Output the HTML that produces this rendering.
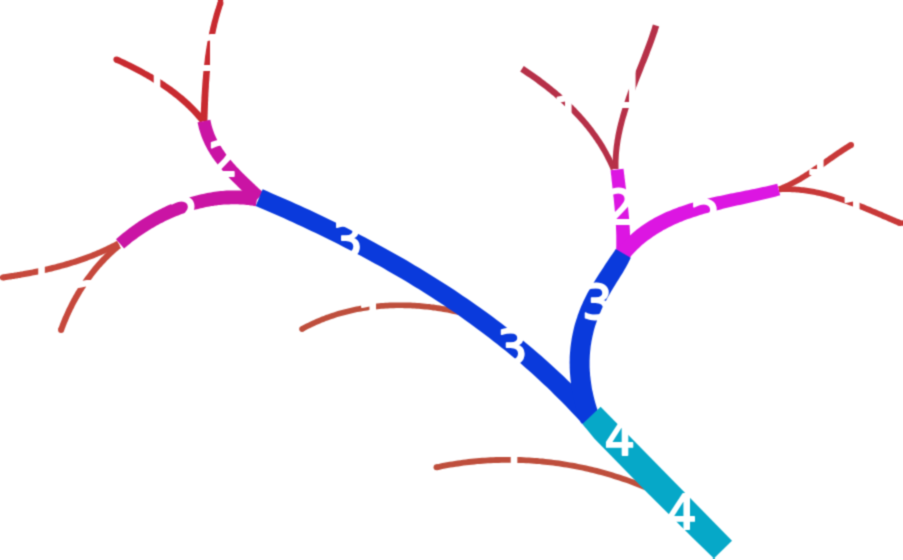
<!DOCTYPE html>
<html lang="en"><head><meta charset="utf-8"><title>Stream order</title>
<style>
html,body{margin:0;padding:0;background:#fff;overflow:hidden}
svg{display:block}
text{font-family:"DejaVu Sans","Liberation Sans",sans-serif;font-size:48.0px;fill:#fff;stroke:#fff;stroke-width:1.8px;stroke-linejoin:round}
</style></head><body>
<svg width="903" height="560" viewBox="0 0 903 560">
<defs><filter id="b" x="0" y="0" width="100%" height="100%" color-interpolation-filters="sRGB"><feConvolveMatrix order="3" kernelMatrix="0.03607 0.11778 0.03607 0.11778 0.38462 0.11778 0.03607 0.11778 0.03607" divisor="1" edgeMode="duplicate" preserveAlpha="false"/></filter></defs>
<rect width="903" height="560" fill="#fff"/>
<g filter="url(#b)">
<path d="M217.7 2.0 L217.2 3.5 L216.7 4.9 L216.2 6.4 L215.8 7.9 L215.3 9.3 L214.8 10.8 L214.4 12.3 L213.9 13.8 L213.5 15.2 L213.1 16.7 L212.7 18.2 L212.3 19.7 L211.9 21.1 L211.5 22.6 L211.2 24.1 L210.8 25.6 L210.4 27.1 L210.1 28.6 L209.8 30.1 L209.4 31.6 L209.1 33.1 L208.8 34.6 L208.5 36.1 L208.2 37.6 L207.9 39.1 L207.6 40.6 L207.4 42.1 L207.1 43.6 L206.9 45.1 L206.6 46.6 L206.4 48.1 L206.1 49.6 L205.9 51.1 L205.7 52.6 L205.5 54.1 L205.2 55.6 L205.0 57.2 L204.8 58.7 L204.7 60.2 L204.5 61.7 L204.3 63.2 L204.1 64.7 L203.9 66.2 L203.8 67.8 L203.6 69.3 L203.5 70.8 L203.3 72.3 L203.2 73.8 L203.0 75.4 L202.9 76.9 L202.8 78.4 L202.6 79.9 L202.5 81.4 L202.4 83.0 L202.3 84.5 L202.2 86.0 L202.1 87.5 L202.0 89.0 L201.9 90.6 L201.8 92.1 L201.7 93.6 L201.6 95.1 L201.5 96.6 L201.4 98.2 L201.4 99.7 L201.3 101.2 L201.2 102.7 L201.1 104.2 L201.1 105.7 L201.0 107.3 L200.9 108.8 L200.9 110.3 L200.8 111.8 L200.7 113.3 L200.7 114.8 L200.6 116.3 L200.6 117.9 L200.5 119.4 L200.4 120.9 L207.4 121.1 L207.5 119.6 L207.5 118.1 L207.6 116.6 L207.6 115.1 L207.7 113.6 L207.7 112.1 L207.8 110.6 L207.8 109.0 L207.9 107.5 L207.9 106.0 L208.0 104.5 L208.0 103.0 L208.1 101.5 L208.2 100.0 L208.2 98.5 L208.3 97.0 L208.4 95.5 L208.4 94.0 L208.5 92.5 L208.6 91.0 L208.7 89.4 L208.8 87.9 L208.9 86.4 L208.9 84.9 L209.0 83.4 L209.1 81.9 L209.3 80.4 L209.4 78.9 L209.5 77.4 L209.6 75.9 L209.7 74.4 L209.8 72.9 L210.0 71.4 L210.1 69.9 L210.3 68.4 L210.4 66.9 L210.6 65.4 L210.7 63.9 L210.9 62.4 L211.0 60.9 L211.2 59.5 L211.4 58.0 L211.6 56.5 L211.8 55.0 L212.0 53.5 L212.2 52.0 L212.4 50.5 L212.6 49.1 L212.8 47.6 L213.1 46.1 L213.3 44.6 L213.6 43.1 L213.8 41.7 L214.1 40.2 L214.3 38.7 L214.6 37.2 L214.9 35.8 L215.2 34.3 L215.5 32.8 L215.8 31.4 L216.1 29.9 L216.4 28.5 L216.8 27.0 L217.1 25.5 L217.4 24.1 L217.8 22.6 L218.2 21.2 L218.5 19.7 L218.9 18.3 L219.3 16.9 L219.7 15.4 L220.1 14.0 L220.6 12.5 L221.0 11.1 L221.4 9.7 L221.9 8.2 L222.3 6.8 L222.8 5.4 L223.3 4.0Z" fill="#c82a30"/><circle cx="220.5" cy="3.0" r="2.95" fill="#c82a30"/>
<path d="M115.2 62.4 L116.4 62.9 L117.7 63.5 L118.9 64.1 L120.1 64.6 L121.3 65.2 L122.5 65.8 L123.7 66.4 L124.9 66.9 L126.1 67.5 L127.3 68.1 L128.5 68.7 L129.7 69.3 L130.9 69.9 L132.1 70.5 L133.3 71.2 L134.5 71.8 L135.7 72.4 L136.9 73.0 L138.1 73.7 L139.3 74.3 L140.5 75.0 L141.6 75.6 L142.8 76.3 L144.0 76.9 L145.2 77.6 L146.3 78.3 L147.5 78.9 L148.6 79.6 L149.8 80.3 L151.0 81.0 L152.1 81.7 L153.2 82.4 L154.4 83.1 L155.5 83.8 L156.7 84.6 L157.8 85.3 L158.9 86.0 L160.0 86.8 L161.1 87.5 L162.2 88.3 L163.3 89.0 L164.4 89.8 L165.5 90.6 L166.6 91.3 L167.7 92.1 L168.8 92.9 L169.9 93.7 L170.9 94.5 L172.0 95.3 L173.0 96.2 L174.1 97.0 L175.1 97.8 L176.2 98.6 L177.2 99.5 L178.2 100.3 L179.2 101.2 L180.2 102.1 L181.2 102.9 L182.2 103.8 L183.2 104.7 L184.2 105.6 L185.2 106.5 L186.1 107.4 L187.1 108.3 L188.0 109.3 L189.0 110.2 L189.9 111.1 L190.8 112.1 L191.8 113.0 L192.7 114.0 L193.6 115.0 L194.5 115.9 L195.4 116.9 L196.2 117.9 L197.1 118.9 L198.0 119.9 L198.8 120.9 L199.7 122.0 L200.5 123.0 L205.8 118.7 L204.9 117.7 L204.0 116.6 L203.1 115.5 L202.2 114.5 L201.3 113.5 L200.4 112.4 L199.5 111.4 L198.5 110.4 L197.6 109.4 L196.6 108.4 L195.7 107.4 L194.7 106.4 L193.7 105.4 L192.7 104.5 L191.7 103.5 L190.7 102.6 L189.7 101.6 L188.7 100.7 L187.7 99.8 L186.6 98.8 L185.6 97.9 L184.6 97.0 L183.5 96.1 L182.5 95.3 L181.4 94.4 L180.3 93.5 L179.2 92.7 L178.2 91.8 L177.1 91.0 L176.0 90.1 L174.9 89.3 L173.8 88.5 L172.7 87.6 L171.6 86.8 L170.4 86.0 L169.3 85.2 L168.2 84.5 L167.0 83.7 L165.9 82.9 L164.8 82.1 L163.6 81.4 L162.5 80.6 L161.3 79.9 L160.1 79.1 L159.0 78.4 L157.8 77.7 L156.6 76.9 L155.5 76.2 L154.3 75.5 L153.1 74.8 L151.9 74.1 L150.7 73.4 L149.5 72.7 L148.3 72.0 L147.1 71.4 L145.9 70.7 L144.7 70.0 L143.5 69.4 L142.3 68.7 L141.1 68.1 L139.9 67.4 L138.7 66.8 L137.4 66.2 L136.2 65.5 L135.0 64.9 L133.8 64.3 L132.6 63.7 L131.3 63.1 L130.1 62.5 L128.9 61.9 L127.6 61.3 L126.4 60.7 L125.2 60.1 L123.9 59.6 L122.7 59.0 L121.5 58.4 L120.3 57.8 L119.0 57.3 L117.8 56.7Z" fill="#c82a30"/><circle cx="116.5" cy="59.6" r="3.10" fill="#c82a30"/>
<path d="M3.4 280.5 L5.0 280.3 L6.5 280.1 L8.0 279.8 L9.5 279.6 L11.0 279.4 L12.5 279.1 L14.1 278.9 L15.6 278.6 L17.1 278.4 L18.6 278.1 L20.1 277.9 L21.6 277.6 L23.2 277.3 L24.7 277.1 L26.2 276.8 L27.7 276.5 L29.2 276.2 L30.7 275.9 L32.3 275.6 L33.8 275.3 L35.3 275.0 L36.8 274.7 L38.3 274.4 L39.8 274.1 L41.3 273.8 L42.8 273.4 L44.3 273.1 L45.9 272.8 L47.4 272.4 L48.9 272.1 L50.4 271.7 L51.9 271.4 L53.4 271.0 L54.9 270.6 L56.4 270.2 L57.9 269.8 L59.4 269.4 L60.9 269.0 L62.3 268.6 L63.8 268.2 L65.3 267.8 L66.8 267.4 L68.3 266.9 L69.8 266.5 L71.3 266.1 L72.7 265.6 L74.2 265.1 L75.7 264.7 L77.1 264.2 L78.6 263.7 L80.1 263.2 L81.5 262.7 L83.0 262.2 L84.5 261.7 L85.9 261.2 L87.4 260.7 L88.8 260.1 L90.3 259.6 L91.7 259.0 L93.2 258.5 L94.6 257.9 L96.0 257.3 L97.5 256.7 L98.9 256.1 L100.3 255.5 L101.7 254.9 L103.2 254.3 L104.6 253.7 L106.0 253.0 L107.4 252.4 L108.8 251.7 L110.2 251.1 L111.6 250.4 L113.0 249.7 L114.4 249.0 L115.8 248.3 L117.2 247.6 L118.5 246.9 L119.9 246.1 L117.1 240.8 L115.7 241.6 L114.4 242.3 L113.1 243.0 L111.7 243.6 L110.3 244.3 L109.0 245.0 L107.6 245.6 L106.3 246.3 L104.9 246.9 L103.5 247.6 L102.1 248.2 L100.7 248.8 L99.4 249.4 L98.0 250.0 L96.6 250.6 L95.2 251.2 L93.8 251.7 L92.4 252.3 L91.0 252.9 L89.6 253.4 L88.1 253.9 L86.7 254.5 L85.3 255.0 L83.9 255.5 L82.5 256.0 L81.0 256.5 L79.6 257.0 L78.2 257.5 L76.7 258.0 L75.3 258.5 L73.8 258.9 L72.4 259.4 L70.9 259.8 L69.5 260.3 L68.0 260.7 L66.6 261.1 L65.1 261.6 L63.7 262.0 L62.2 262.4 L60.7 262.8 L59.3 263.2 L57.8 263.6 L56.3 264.0 L54.9 264.4 L53.4 264.7 L51.9 265.1 L50.4 265.5 L49.0 265.8 L47.5 266.2 L46.0 266.5 L44.5 266.9 L43.0 267.2 L41.5 267.5 L40.0 267.8 L38.6 268.2 L37.1 268.5 L35.6 268.8 L34.1 269.1 L32.6 269.4 L31.1 269.7 L29.6 270.0 L28.1 270.3 L26.6 270.5 L25.1 270.8 L23.6 271.1 L22.1 271.4 L20.6 271.6 L19.1 271.9 L17.6 272.1 L16.1 272.4 L14.6 272.6 L13.1 272.9 L11.6 273.1 L10.1 273.3 L8.6 273.6 L7.1 273.8 L5.6 274.0 L4.1 274.3 L2.6 274.5Z" fill="#c6483c"/><circle cx="3.0" cy="277.5" r="3.05" fill="#c6483c"/>
<path d="M63.9 331.1 L64.4 329.8 L64.8 328.6 L65.3 327.4 L65.7 326.2 L66.2 325.0 L66.7 323.8 L67.2 322.6 L67.7 321.4 L68.2 320.2 L68.7 319.0 L69.2 317.8 L69.7 316.6 L70.2 315.5 L70.8 314.3 L71.3 313.1 L71.9 311.9 L72.4 310.8 L73.0 309.6 L73.6 308.4 L74.2 307.3 L74.7 306.1 L75.3 305.0 L75.9 303.8 L76.5 302.7 L77.2 301.5 L77.8 300.4 L78.4 299.3 L79.1 298.2 L79.7 297.0 L80.4 295.9 L81.0 294.8 L81.7 293.7 L82.3 292.6 L83.0 291.5 L83.7 290.4 L84.4 289.3 L85.1 288.2 L85.8 287.2 L86.5 286.1 L87.3 285.0 L88.0 283.9 L88.7 282.9 L89.5 281.8 L90.2 280.8 L91.0 279.7 L91.7 278.7 L92.5 277.7 L93.3 276.6 L94.1 275.6 L94.9 274.6 L95.7 273.6 L96.5 272.6 L97.3 271.6 L98.1 270.6 L99.0 269.6 L99.8 268.6 L100.6 267.6 L101.5 266.7 L102.3 265.7 L103.2 264.8 L104.1 263.8 L105.0 262.9 L105.8 261.9 L106.7 261.0 L107.6 260.1 L108.5 259.2 L109.5 258.2 L110.4 257.3 L111.3 256.4 L112.2 255.6 L113.2 254.7 L114.1 253.8 L115.1 252.9 L116.0 252.1 L117.0 251.2 L118.0 250.4 L119.0 249.5 L120.0 248.7 L121.0 247.9 L117.0 243.0 L115.9 243.9 L114.9 244.7 L113.9 245.6 L112.9 246.5 L111.9 247.4 L110.9 248.3 L109.9 249.2 L108.9 250.1 L107.9 251.0 L107.0 251.9 L106.0 252.9 L105.0 253.8 L104.1 254.7 L103.2 255.7 L102.2 256.7 L101.3 257.6 L100.4 258.6 L99.5 259.6 L98.6 260.6 L97.7 261.5 L96.8 262.5 L95.9 263.5 L95.1 264.6 L94.2 265.6 L93.3 266.6 L92.5 267.6 L91.6 268.7 L90.8 269.7 L90.0 270.8 L89.2 271.8 L88.4 272.9 L87.6 273.9 L86.8 275.0 L86.0 276.1 L85.2 277.1 L84.4 278.2 L83.6 279.3 L82.9 280.4 L82.1 281.5 L81.4 282.6 L80.6 283.7 L79.9 284.9 L79.2 286.0 L78.5 287.1 L77.8 288.2 L77.1 289.4 L76.4 290.5 L75.7 291.6 L75.0 292.8 L74.4 293.9 L73.7 295.1 L73.0 296.3 L72.4 297.4 L71.7 298.6 L71.1 299.8 L70.5 301.0 L69.9 302.1 L69.3 303.3 L68.7 304.5 L68.1 305.7 L67.5 306.9 L66.9 308.1 L66.3 309.3 L65.8 310.5 L65.2 311.7 L64.7 312.9 L64.1 314.2 L63.6 315.4 L63.0 316.6 L62.5 317.8 L62.0 319.1 L61.5 320.3 L61.0 321.5 L60.5 322.8 L60.0 324.0 L59.6 325.2 L59.1 326.5 L58.6 327.7 L58.2 329.0Z" fill="#c6483c"/><circle cx="61.1" cy="330.0" r="3.05" fill="#c6483c"/>
<path d="M303.4 331.5 L305.2 330.5 L307.0 329.6 L308.9 328.6 L310.7 327.7 L312.6 326.8 L314.4 325.9 L316.3 325.1 L318.2 324.2 L320.1 323.4 L322.0 322.6 L323.9 321.9 L325.8 321.1 L327.7 320.4 L329.6 319.7 L331.6 319.0 L333.5 318.4 L335.4 317.7 L337.4 317.1 L339.4 316.5 L341.3 315.9 L343.3 315.4 L345.3 314.9 L347.2 314.4 L349.2 313.9 L351.2 313.4 L353.2 313.0 L355.2 312.5 L357.2 312.1 L359.3 311.7 L361.3 311.4 L363.3 311.0 L365.3 310.7 L367.3 310.4 L369.4 310.1 L371.4 309.9 L373.4 309.6 L375.5 309.4 L377.5 309.2 L379.6 309.0 L381.6 308.8 L383.7 308.7 L385.7 308.5 L387.8 308.4 L389.8 308.3 L391.9 308.2 L394.0 308.2 L396.0 308.1 L398.1 308.1 L400.1 308.1 L402.2 308.1 L404.3 308.2 L406.3 308.2 L408.4 308.3 L410.5 308.3 L412.5 308.4 L414.6 308.6 L416.6 308.7 L418.7 308.8 L420.7 309.0 L422.8 309.2 L424.9 309.4 L426.9 309.6 L429.0 309.8 L431.0 310.1 L433.1 310.4 L435.1 310.6 L437.1 310.9 L439.2 311.2 L441.2 311.6 L443.2 311.9 L445.3 312.3 L447.3 312.6 L449.3 313.0 L451.3 313.4 L453.3 313.9 L455.3 314.3 L457.3 314.7 L459.3 315.2 L461.3 315.7 L462.7 310.0 L460.7 309.6 L458.6 309.1 L456.6 308.6 L454.5 308.2 L452.5 307.8 L450.4 307.4 L448.4 307.0 L446.3 306.6 L444.2 306.2 L442.1 305.9 L440.1 305.5 L438.0 305.2 L435.9 304.9 L433.8 304.6 L431.7 304.4 L429.6 304.1 L427.5 303.9 L425.4 303.7 L423.3 303.5 L421.2 303.3 L419.1 303.1 L417.0 303.0 L414.9 302.8 L412.8 302.7 L410.7 302.6 L408.6 302.5 L406.5 302.5 L404.4 302.4 L402.3 302.4 L400.1 302.4 L398.0 302.4 L395.9 302.4 L393.8 302.5 L391.7 302.5 L389.6 302.6 L387.5 302.7 L385.4 302.8 L383.3 303.0 L381.2 303.1 L379.1 303.3 L377.0 303.5 L374.9 303.7 L372.8 304.0 L370.7 304.2 L368.6 304.5 L366.5 304.8 L364.4 305.1 L362.4 305.4 L360.3 305.8 L358.2 306.2 L356.1 306.6 L354.1 307.0 L352.0 307.4 L350.0 307.9 L347.9 308.4 L345.9 308.9 L343.8 309.4 L341.8 309.9 L339.8 310.5 L337.7 311.1 L335.7 311.7 L333.7 312.4 L331.7 313.0 L329.7 313.7 L327.7 314.4 L325.7 315.1 L323.8 315.9 L321.8 316.6 L319.8 317.4 L317.9 318.2 L315.9 319.1 L314.0 319.9 L312.1 320.8 L310.1 321.7 L308.2 322.7 L306.3 323.6 L304.4 324.6 L302.5 325.6 L300.7 326.6Z" fill="#be4e3c"/><circle cx="302.0" cy="329.1" r="2.80" fill="#be4e3c"/>
<path d="M437.1 470.2 L439.8 469.7 L442.4 469.1 L445.1 468.6 L447.7 468.1 L450.4 467.6 L453.0 467.2 L455.7 466.8 L458.4 466.4 L461.1 466.0 L463.7 465.6 L466.4 465.3 L469.1 465.0 L471.8 464.7 L474.5 464.4 L477.2 464.1 L479.9 463.9 L482.6 463.7 L485.3 463.5 L488.0 463.3 L490.7 463.2 L493.4 463.1 L496.1 463.0 L498.8 462.9 L501.5 462.8 L504.3 462.8 L507.0 462.7 L509.7 462.8 L512.4 462.8 L515.1 462.8 L517.8 462.9 L520.5 463.0 L523.2 463.1 L526.0 463.2 L528.7 463.3 L531.4 463.5 L534.1 463.7 L536.8 463.9 L539.5 464.1 L542.2 464.4 L544.9 464.7 L547.6 465.0 L550.3 465.3 L553.0 465.6 L555.7 466.0 L558.4 466.3 L561.1 466.7 L563.8 467.2 L566.5 467.6 L569.1 468.0 L571.8 468.5 L574.5 469.0 L577.1 469.5 L579.8 470.1 L582.5 470.6 L585.1 471.2 L587.8 471.8 L590.4 472.4 L593.0 473.1 L595.7 473.7 L598.3 474.4 L600.9 475.1 L603.5 475.8 L606.1 476.5 L608.7 477.3 L611.3 478.1 L613.9 478.9 L616.5 479.7 L619.1 480.5 L621.7 481.4 L624.2 482.2 L626.8 483.1 L629.3 484.0 L631.9 485.0 L634.4 485.9 L636.9 486.9 L639.4 487.9 L641.9 488.9 L644.4 489.9 L646.9 491.0 L649.1 485.7 L646.6 484.6 L644.1 483.6 L641.5 482.6 L639.0 481.6 L636.4 480.6 L633.8 479.6 L631.3 478.7 L628.7 477.7 L626.1 476.8 L623.5 475.9 L620.9 475.1 L618.3 474.2 L615.6 473.4 L613.0 472.6 L610.4 471.8 L607.7 471.0 L605.1 470.3 L602.4 469.5 L599.8 468.8 L597.1 468.1 L594.4 467.5 L591.7 466.8 L589.1 466.2 L586.4 465.6 L583.7 465.0 L581.0 464.4 L578.3 463.9 L575.6 463.3 L572.8 462.8 L570.1 462.4 L567.4 461.9 L564.7 461.4 L562.0 461.0 L559.2 460.6 L556.5 460.2 L553.7 459.9 L551.0 459.5 L548.3 459.2 L545.5 458.9 L542.8 458.6 L540.0 458.4 L537.3 458.1 L534.5 457.9 L531.8 457.7 L529.0 457.5 L526.3 457.4 L523.5 457.3 L520.7 457.1 L518.0 457.1 L515.2 457.0 L512.5 456.9 L509.7 456.9 L506.9 456.9 L504.2 456.9 L501.4 457.0 L498.7 457.0 L495.9 457.1 L493.2 457.2 L490.4 457.3 L487.7 457.5 L484.9 457.7 L482.2 457.8 L479.4 458.1 L476.7 458.3 L473.9 458.5 L471.2 458.8 L468.4 459.1 L465.7 459.4 L463.0 459.8 L460.3 460.2 L457.5 460.5 L454.8 461.0 L452.1 461.4 L449.4 461.8 L446.7 462.3 L444.0 462.8 L441.3 463.3 L438.6 463.9 L435.9 464.4Z" fill="#be4e3c"/><circle cx="436.5" cy="467.3" r="2.95" fill="#be4e3c"/>
<path d="M652.9 24.5 L652.3 26.3 L651.8 28.1 L651.2 29.9 L650.6 31.6 L650.0 33.4 L649.4 35.2 L648.8 36.9 L648.2 38.7 L647.6 40.5 L646.9 42.2 L646.3 44.0 L645.6 45.8 L645.0 47.5 L644.3 49.3 L643.6 51.1 L642.9 52.9 L642.3 54.6 L641.6 56.4 L640.9 58.2 L640.2 60.0 L639.5 61.7 L638.8 63.5 L638.1 65.3 L637.4 67.1 L636.7 68.8 L636.0 70.6 L635.3 72.4 L634.6 74.2 L633.9 76.0 L633.2 77.8 L632.5 79.5 L631.9 81.3 L631.2 83.1 L630.5 84.9 L629.8 86.7 L629.1 88.5 L628.5 90.3 L627.8 92.1 L627.2 93.9 L626.5 95.7 L625.9 97.5 L625.3 99.4 L624.7 101.2 L624.0 103.0 L623.4 104.8 L622.9 106.6 L622.3 108.5 L621.7 110.3 L621.2 112.1 L620.6 114.0 L620.1 115.8 L619.6 117.7 L619.1 119.5 L618.6 121.4 L618.1 123.2 L617.7 125.1 L617.2 126.9 L616.8 128.8 L616.4 130.7 L616.0 132.6 L615.6 134.4 L615.3 136.3 L615.0 138.2 L614.6 140.1 L614.4 142.0 L614.1 143.9 L613.8 145.8 L613.6 147.7 L613.4 149.7 L613.2 151.6 L613.1 153.5 L612.9 155.4 L612.8 157.4 L612.8 159.3 L612.7 161.3 L612.7 163.2 L612.7 165.2 L612.7 167.2 L612.7 169.1 L618.5 169.0 L618.5 167.1 L618.5 165.2 L618.5 163.3 L618.5 161.4 L618.6 159.5 L618.7 157.7 L618.8 155.8 L618.9 154.0 L619.1 152.1 L619.3 150.3 L619.5 148.4 L619.7 146.6 L620.0 144.7 L620.2 142.9 L620.5 141.1 L620.8 139.2 L621.2 137.4 L621.5 135.6 L621.9 133.8 L622.3 131.9 L622.7 130.1 L623.1 128.3 L623.5 126.5 L624.0 124.7 L624.4 122.9 L624.9 121.1 L625.4 119.3 L625.9 117.5 L626.5 115.7 L627.0 113.9 L627.6 112.1 L628.1 110.3 L628.7 108.5 L629.3 106.7 L629.9 104.9 L630.5 103.2 L631.1 101.4 L631.7 99.6 L632.4 97.8 L633.0 96.0 L633.7 94.2 L634.3 92.5 L635.0 90.7 L635.7 88.9 L636.3 87.1 L637.0 85.4 L637.7 83.6 L638.4 81.8 L639.1 80.0 L639.8 78.3 L640.5 76.5 L641.2 74.7 L641.9 72.9 L642.6 71.2 L643.3 69.4 L644.0 67.6 L644.7 65.8 L645.4 64.1 L646.2 62.3 L646.9 60.5 L647.6 58.7 L648.3 57.0 L649.0 55.2 L649.6 53.4 L650.3 51.6 L651.0 49.8 L651.7 48.1 L652.4 46.3 L653.0 44.5 L653.7 42.7 L654.3 40.9 L655.0 39.1 L655.6 37.3 L656.2 35.5 L656.8 33.7 L657.5 31.9 L658.0 30.1 L658.6 28.3 L659.2 26.5Z" fill="#b63048"/>
<path d="M520.2 71.6 L521.6 72.5 L523.1 73.5 L524.5 74.4 L525.9 75.4 L527.4 76.4 L528.8 77.3 L530.2 78.3 L531.6 79.3 L533.1 80.3 L534.5 81.3 L535.9 82.3 L537.3 83.4 L538.7 84.4 L540.0 85.4 L541.4 86.4 L542.8 87.5 L544.2 88.6 L545.5 89.6 L546.9 90.7 L548.2 91.8 L549.6 92.8 L550.9 93.9 L552.3 95.0 L553.6 96.1 L554.9 97.3 L556.2 98.4 L557.5 99.5 L558.8 100.6 L560.1 101.8 L561.4 103.0 L562.7 104.1 L563.9 105.3 L565.2 106.5 L566.4 107.6 L567.7 108.8 L568.9 110.0 L570.1 111.3 L571.3 112.5 L572.5 113.7 L573.7 114.9 L574.9 116.2 L576.1 117.4 L577.3 118.7 L578.4 120.0 L579.5 121.2 L580.7 122.5 L581.8 123.8 L582.9 125.1 L584.0 126.4 L585.1 127.8 L586.2 129.1 L587.2 130.4 L588.3 131.8 L589.3 133.1 L590.3 134.5 L591.4 135.9 L592.4 137.3 L593.3 138.7 L594.3 140.1 L595.3 141.5 L596.2 142.9 L597.2 144.3 L598.1 145.8 L599.0 147.2 L599.9 148.7 L600.8 150.2 L601.6 151.6 L602.5 153.1 L603.3 154.6 L604.1 156.1 L605.0 157.7 L605.7 159.2 L606.5 160.7 L607.3 162.3 L608.0 163.8 L608.8 165.4 L609.5 167.0 L610.2 168.6 L610.9 170.2 L616.2 167.9 L615.5 166.3 L614.8 164.6 L614.1 163.0 L613.3 161.4 L612.6 159.7 L611.8 158.1 L611.0 156.5 L610.2 154.9 L609.3 153.4 L608.5 151.8 L607.6 150.2 L606.8 148.7 L605.9 147.2 L605.0 145.6 L604.1 144.1 L603.1 142.6 L602.2 141.1 L601.2 139.6 L600.3 138.2 L599.3 136.7 L598.3 135.2 L597.3 133.8 L596.2 132.4 L595.2 130.9 L594.1 129.5 L593.1 128.1 L592.0 126.7 L590.9 125.3 L589.8 123.9 L588.7 122.6 L587.6 121.2 L586.5 119.9 L585.3 118.5 L584.2 117.2 L583.0 115.9 L581.8 114.6 L580.6 113.2 L579.4 112.0 L578.2 110.7 L577.0 109.4 L575.8 108.1 L574.5 106.9 L573.3 105.6 L572.0 104.4 L570.8 103.1 L569.5 101.9 L568.2 100.7 L566.9 99.5 L565.6 98.3 L564.3 97.1 L563.0 95.9 L561.7 94.8 L560.4 93.6 L559.0 92.4 L557.7 91.3 L556.3 90.1 L555.0 89.0 L553.6 87.9 L552.3 86.8 L550.9 85.7 L549.5 84.6 L548.1 83.5 L546.7 82.4 L545.3 81.3 L543.9 80.2 L542.5 79.2 L541.1 78.1 L539.7 77.1 L538.3 76.1 L536.8 75.0 L535.4 74.0 L534.0 73.0 L532.5 72.0 L531.1 71.0 L529.6 70.0 L528.2 69.0 L526.7 68.0 L525.3 67.0 L523.8 66.1Z" fill="#b63048"/>
<path d="M849.5 142.4 L848.5 143.0 L847.6 143.5 L846.7 144.1 L845.8 144.7 L844.8 145.3 L843.9 145.8 L843.0 146.4 L842.1 147.0 L841.2 147.6 L840.3 148.2 L839.4 148.8 L838.5 149.4 L837.6 150.0 L836.7 150.6 L835.8 151.2 L834.9 151.8 L834.0 152.4 L833.1 153.1 L832.3 153.7 L831.4 154.3 L830.5 154.9 L829.6 155.5 L828.7 156.1 L827.9 156.8 L827.0 157.4 L826.1 158.0 L825.2 158.6 L824.3 159.2 L823.5 159.9 L822.6 160.5 L821.7 161.1 L820.8 161.7 L820.0 162.3 L819.1 163.0 L818.2 163.6 L817.3 164.2 L816.5 164.8 L815.6 165.4 L814.7 166.0 L813.8 166.6 L813.0 167.2 L812.1 167.8 L811.2 168.4 L810.3 169.0 L809.4 169.6 L808.5 170.2 L807.7 170.8 L806.8 171.4 L805.9 171.9 L805.0 172.5 L804.1 173.1 L803.2 173.7 L802.3 174.2 L801.4 174.8 L800.5 175.3 L799.6 175.9 L798.7 176.4 L797.8 176.9 L796.9 177.5 L796.0 178.0 L795.1 178.5 L794.1 179.0 L793.2 179.5 L792.3 180.0 L791.4 180.5 L790.4 181.0 L789.5 181.5 L788.6 182.0 L787.6 182.4 L786.7 182.9 L785.7 183.3 L784.8 183.8 L783.8 184.2 L782.9 184.6 L781.9 185.1 L780.9 185.5 L779.9 185.9 L779.0 186.3 L778.0 186.6 L780.0 192.0 L781.1 191.6 L782.1 191.2 L783.1 190.7 L784.1 190.3 L785.1 189.9 L786.2 189.4 L787.2 189.0 L788.2 188.5 L789.1 188.1 L790.1 187.6 L791.1 187.1 L792.1 186.6 L793.1 186.1 L794.0 185.6 L795.0 185.1 L796.0 184.6 L796.9 184.1 L797.9 183.6 L798.8 183.0 L799.8 182.5 L800.7 181.9 L801.7 181.4 L802.6 180.8 L803.5 180.3 L804.4 179.7 L805.4 179.1 L806.3 178.6 L807.2 178.0 L808.1 177.4 L809.0 176.8 L809.9 176.2 L810.9 175.7 L811.8 175.1 L812.7 174.5 L813.6 173.9 L814.5 173.3 L815.4 172.7 L816.2 172.1 L817.1 171.4 L818.0 170.8 L818.9 170.2 L819.8 169.6 L820.7 169.0 L821.6 168.4 L822.5 167.8 L823.3 167.2 L824.2 166.5 L825.1 165.9 L826.0 165.3 L826.9 164.7 L827.7 164.1 L828.6 163.4 L829.5 162.8 L830.4 162.2 L831.2 161.6 L832.1 161.0 L833.0 160.4 L833.9 159.8 L834.8 159.2 L835.6 158.5 L836.5 157.9 L837.4 157.3 L838.3 156.7 L839.2 156.1 L840.0 155.5 L840.9 154.9 L841.8 154.4 L842.7 153.8 L843.6 153.2 L844.5 152.6 L845.4 152.0 L846.2 151.5 L847.1 150.9 L848.0 150.3 L848.9 149.8 L849.8 149.2 L850.7 148.7 L851.6 148.1 L852.5 147.6Z" fill="#c83838"/><circle cx="851.0" cy="145.0" r="3.00" fill="#c83838"/>
<path d="M901.1 220.3 L899.6 219.6 L898.2 219.0 L896.7 218.4 L895.3 217.8 L893.8 217.2 L892.3 216.6 L890.9 215.9 L889.4 215.3 L887.9 214.7 L886.5 214.0 L885.0 213.4 L883.5 212.8 L882.1 212.1 L880.6 211.5 L879.1 210.9 L877.6 210.2 L876.1 209.6 L874.6 209.0 L873.2 208.4 L871.7 207.7 L870.2 207.1 L868.7 206.5 L867.2 205.9 L865.7 205.3 L864.2 204.6 L862.7 204.0 L861.2 203.4 L859.7 202.8 L858.1 202.2 L856.6 201.7 L855.1 201.1 L853.6 200.5 L852.1 199.9 L850.6 199.4 L849.0 198.8 L847.5 198.3 L846.0 197.7 L844.4 197.2 L842.9 196.7 L841.4 196.2 L839.8 195.7 L838.3 195.2 L836.7 194.7 L835.2 194.2 L833.6 193.7 L832.1 193.3 L830.5 192.8 L828.9 192.4 L827.4 192.0 L825.8 191.6 L824.2 191.2 L822.6 190.8 L821.1 190.4 L819.5 190.1 L817.9 189.7 L816.3 189.4 L814.7 189.1 L813.1 188.8 L811.5 188.5 L809.9 188.2 L808.3 188.0 L806.7 187.8 L805.1 187.5 L803.5 187.3 L801.8 187.2 L800.2 187.0 L798.6 186.8 L797.0 186.7 L795.3 186.6 L793.7 186.5 L792.1 186.4 L790.4 186.4 L788.8 186.4 L787.1 186.3 L785.5 186.4 L783.8 186.4 L782.1 186.4 L780.5 186.5 L778.8 186.6 L779.1 192.3 L780.7 192.2 L782.3 192.1 L783.9 192.1 L785.5 192.1 L787.1 192.1 L788.7 192.1 L790.3 192.1 L791.8 192.2 L793.4 192.2 L795.0 192.3 L796.5 192.4 L798.1 192.6 L799.7 192.7 L801.2 192.9 L802.8 193.1 L804.3 193.3 L805.9 193.5 L807.4 193.7 L809.0 193.9 L810.5 194.2 L812.1 194.5 L813.6 194.8 L815.2 195.1 L816.7 195.4 L818.2 195.7 L819.8 196.1 L821.3 196.4 L822.8 196.8 L824.3 197.2 L825.9 197.6 L827.4 198.0 L828.9 198.4 L830.4 198.9 L831.9 199.3 L833.5 199.8 L835.0 200.3 L836.5 200.7 L838.0 201.2 L839.5 201.7 L841.0 202.2 L842.5 202.7 L844.0 203.3 L845.5 203.8 L847.0 204.3 L848.5 204.9 L850.0 205.4 L851.5 206.0 L853.0 206.6 L854.5 207.2 L856.0 207.7 L857.5 208.3 L859.0 208.9 L860.5 209.5 L862.0 210.1 L863.4 210.7 L864.9 211.3 L866.4 212.0 L867.9 212.6 L869.4 213.2 L870.9 213.8 L872.3 214.4 L873.8 215.1 L875.3 215.7 L876.8 216.3 L878.2 217.0 L879.7 217.6 L881.2 218.2 L882.6 218.9 L884.1 219.5 L885.6 220.1 L887.1 220.8 L888.5 221.4 L890.0 222.0 L891.5 222.7 L892.9 223.3 L894.4 223.9 L895.9 224.6 L897.3 225.2 L898.8 225.8Z" fill="#c83838"/><circle cx="899.9" cy="223.0" r="3.00" fill="#c83838"/>
<path d="M197.6 122.2 L197.8 123.5 L198.1 124.8 L198.4 126.1 L198.7 127.4 L199.0 128.7 L199.4 130.0 L199.8 131.3 L200.2 132.6 L200.6 133.8 L201.0 135.1 L201.4 136.3 L201.9 137.5 L202.4 138.7 L202.9 139.9 L203.4 141.1 L203.9 142.3 L204.5 143.5 L205.0 144.7 L205.6 145.8 L206.2 147.0 L206.8 148.1 L207.4 149.2 L208.1 150.4 L208.7 151.5 L209.4 152.6 L210.0 153.7 L210.7 154.7 L211.4 155.8 L212.1 156.9 L212.8 157.9 L213.6 159.0 L214.3 160.0 L215.0 161.1 L215.8 162.1 L216.6 163.1 L217.3 164.1 L218.1 165.1 L218.9 166.1 L219.7 167.1 L220.5 168.1 L221.3 169.1 L222.1 170.0 L223.0 171.0 L223.8 172.0 L224.6 172.9 L225.5 173.8 L226.3 174.8 L227.2 175.7 L228.1 176.6 L228.9 177.6 L229.8 178.5 L230.7 179.4 L231.5 180.3 L232.4 181.2 L233.3 182.1 L234.2 183.0 L235.1 183.8 L236.0 184.7 L236.9 185.6 L237.7 186.5 L238.6 187.3 L239.5 188.2 L240.4 189.0 L241.3 189.9 L242.2 190.7 L243.1 191.6 L244.0 192.4 L244.9 193.2 L245.8 194.1 L246.7 194.9 L247.6 195.7 L248.4 196.6 L249.3 197.4 L250.2 198.2 L251.1 199.0 L252.0 199.8 L252.8 200.6 L253.7 201.4 L254.6 202.2 L263.4 192.7 L262.6 191.9 L261.7 191.1 L260.8 190.3 L259.9 189.5 L259.1 188.7 L258.2 187.9 L257.3 187.0 L256.4 186.2 L255.5 185.4 L254.7 184.6 L253.8 183.8 L252.9 182.9 L252.0 182.1 L251.2 181.3 L250.3 180.5 L249.4 179.6 L248.5 178.8 L247.7 178.0 L246.8 177.1 L245.9 176.3 L245.1 175.4 L244.2 174.6 L243.4 173.8 L242.5 172.9 L241.7 172.1 L240.8 171.2 L240.0 170.3 L239.2 169.5 L238.4 168.6 L237.6 167.7 L236.7 166.9 L235.9 166.0 L235.1 165.1 L234.4 164.3 L233.6 163.4 L232.8 162.5 L232.0 161.6 L231.3 160.7 L230.5 159.8 L229.8 158.9 L229.1 158.0 L228.3 157.1 L227.6 156.2 L226.9 155.3 L226.2 154.3 L225.5 153.4 L224.9 152.5 L224.2 151.5 L223.6 150.6 L222.9 149.7 L222.3 148.7 L221.7 147.8 L221.1 146.8 L220.5 145.8 L219.9 144.9 L219.3 143.9 L218.8 142.9 L218.2 141.9 L217.7 140.9 L217.2 140.0 L216.7 139.0 L216.2 137.9 L215.8 136.9 L215.3 135.9 L214.9 134.9 L214.4 133.9 L214.0 132.8 L213.6 131.8 L213.3 130.7 L212.9 129.7 L212.5 128.6 L212.2 127.6 L211.9 126.5 L211.6 125.4 L211.3 124.3 L211.1 123.2 L210.8 122.1 L210.6 121.0 L210.4 119.8Z" fill="#ca14a4"/>
<path d="M124.1 248.5 L125.5 247.3 L126.8 246.2 L128.2 245.0 L129.6 243.9 L131.0 242.7 L132.4 241.6 L133.9 240.5 L135.3 239.4 L136.8 238.4 L138.2 237.3 L139.7 236.3 L141.2 235.2 L142.7 234.2 L144.2 233.2 L145.7 232.2 L147.3 231.2 L148.8 230.2 L150.4 229.3 L151.9 228.3 L153.5 227.4 L155.1 226.5 L156.7 225.6 L158.3 224.7 L159.9 223.8 L161.5 223.0 L163.2 222.2 L164.8 221.3 L166.4 220.5 L168.1 219.7 L169.8 219.0 L171.4 218.2 L173.1 217.5 L174.8 216.8 L176.5 216.1 L178.2 215.4 L179.9 214.7 L181.6 214.1 L183.3 213.5 L185.0 212.9 L186.7 212.3 L188.5 211.7 L190.2 211.2 L191.9 210.6 L193.7 210.1 L195.4 209.6 L197.2 209.2 L198.9 208.7 L200.7 208.3 L202.5 207.9 L204.2 207.5 L206.0 207.1 L207.8 206.8 L209.5 206.4 L211.3 206.1 L213.1 205.9 L214.9 205.6 L216.6 205.4 L218.4 205.1 L220.2 205.0 L222.0 204.8 L223.8 204.6 L225.6 204.5 L227.3 204.4 L229.1 204.4 L230.9 204.3 L232.7 204.3 L234.5 204.3 L236.3 204.3 L238.0 204.3 L239.8 204.4 L241.6 204.5 L243.4 204.6 L245.2 204.8 L246.9 204.9 L248.7 205.1 L250.5 205.4 L252.3 205.6 L254.0 205.9 L255.8 206.2 L258.1 192.2 L256.2 191.9 L254.2 191.6 L252.2 191.3 L250.3 191.1 L248.3 190.9 L246.3 190.8 L244.3 190.6 L242.4 190.5 L240.4 190.4 L238.4 190.4 L236.4 190.4 L234.5 190.4 L232.5 190.4 L230.5 190.4 L228.6 190.5 L226.6 190.6 L224.6 190.8 L222.7 190.9 L220.7 191.1 L218.7 191.3 L216.8 191.6 L214.8 191.8 L212.9 192.1 L211.0 192.4 L209.0 192.7 L207.1 193.1 L205.2 193.5 L203.2 193.9 L201.3 194.3 L199.4 194.7 L197.5 195.2 L195.6 195.7 L193.7 196.2 L191.8 196.7 L189.9 197.3 L188.0 197.9 L186.2 198.5 L184.3 199.1 L182.4 199.7 L180.6 200.4 L178.8 201.1 L176.9 201.8 L175.1 202.5 L173.3 203.2 L171.4 204.0 L169.6 204.7 L167.8 205.5 L166.1 206.3 L164.3 207.2 L162.5 208.0 L160.7 208.9 L159.0 209.8 L157.3 210.7 L155.5 211.6 L153.8 212.5 L152.1 213.5 L150.4 214.4 L148.7 215.4 L147.0 216.4 L145.3 217.4 L143.7 218.4 L142.0 219.5 L140.4 220.5 L138.8 221.6 L137.2 222.7 L135.6 223.8 L134.0 224.9 L132.4 226.0 L130.8 227.2 L129.3 228.3 L127.8 229.5 L126.2 230.7 L124.7 231.9 L123.2 233.1 L121.7 234.3 L120.3 235.5 L118.8 236.8 L117.4 238.0 L116.0 239.2Z" fill="#ca14a4"/>
<path d="M610.6 170.2 L610.7 171.3 L610.8 172.3 L610.9 173.4 L611.0 174.4 L611.2 175.5 L611.3 176.6 L611.4 177.6 L611.5 178.7 L611.6 179.7 L611.7 180.8 L611.8 181.8 L612.0 182.9 L612.1 183.9 L612.2 185.0 L612.3 186.1 L612.4 187.1 L612.5 188.2 L612.7 189.2 L612.8 190.3 L612.9 191.3 L613.0 192.4 L613.1 193.4 L613.2 194.5 L613.3 195.5 L613.4 196.6 L613.6 197.6 L613.7 198.7 L613.8 199.7 L613.9 200.8 L614.0 201.8 L614.1 202.9 L614.2 203.9 L614.3 205.0 L614.4 206.0 L614.5 207.1 L614.6 208.1 L614.7 209.2 L614.8 210.2 L614.9 211.2 L615.0 212.3 L615.1 213.3 L615.1 214.4 L615.2 215.4 L615.3 216.5 L615.4 217.5 L615.5 218.5 L615.5 219.6 L615.6 220.6 L615.7 221.7 L615.7 222.7 L615.8 223.7 L615.8 224.8 L615.9 225.8 L616.0 226.9 L616.0 227.9 L616.0 228.9 L616.1 230.0 L616.1 231.0 L616.2 232.0 L616.2 233.1 L616.2 234.1 L616.3 235.2 L616.3 236.2 L616.3 237.2 L616.3 238.3 L616.3 239.3 L616.3 240.3 L616.3 241.4 L616.3 242.4 L616.3 243.4 L616.3 244.4 L616.3 245.5 L616.3 246.5 L616.2 247.5 L616.2 248.6 L616.2 249.6 L616.1 250.6 L616.1 251.7 L616.0 252.7 L630.0 253.3 L630.0 252.2 L630.1 251.1 L630.1 250.0 L630.1 248.9 L630.2 247.8 L630.2 246.7 L630.2 245.7 L630.2 244.6 L630.2 243.5 L630.2 242.4 L630.2 241.3 L630.2 240.2 L630.1 239.1 L630.1 238.0 L630.1 236.9 L630.1 235.9 L630.0 234.8 L630.0 233.7 L629.9 232.6 L629.9 231.5 L629.9 230.4 L629.8 229.4 L629.7 228.3 L629.7 227.2 L629.6 226.1 L629.5 225.0 L629.5 224.0 L629.4 222.9 L629.3 221.8 L629.2 220.7 L629.2 219.6 L629.1 218.6 L629.0 217.5 L628.9 216.4 L628.8 215.4 L628.7 214.3 L628.6 213.2 L628.5 212.1 L628.4 211.1 L628.3 210.0 L628.2 208.9 L628.1 207.9 L628.0 206.8 L627.9 205.7 L627.8 204.7 L627.6 203.6 L627.5 202.5 L627.4 201.5 L627.3 200.4 L627.2 199.3 L627.1 198.3 L626.9 197.2 L626.8 196.2 L626.7 195.1 L626.6 194.0 L626.4 193.0 L626.3 191.9 L626.2 190.9 L626.1 189.8 L625.9 188.8 L625.8 187.7 L625.7 186.6 L625.5 185.6 L625.4 184.5 L625.3 183.5 L625.2 182.4 L625.0 181.4 L624.9 180.3 L624.8 179.3 L624.6 178.2 L624.5 177.2 L624.4 176.1 L624.3 175.1 L624.1 174.0 L624.0 173.0 L623.9 171.9 L623.8 170.9 L623.6 169.8 L623.5 168.8Z" fill="#dc16e2"/>
<path d="M777.2 183.8 L775.2 184.3 L773.1 184.8 L771.1 185.3 L769.0 185.8 L767.0 186.2 L764.9 186.7 L762.8 187.1 L760.8 187.6 L758.7 188.0 L756.5 188.4 L754.4 188.9 L752.3 189.3 L750.2 189.7 L748.0 190.2 L745.9 190.6 L743.8 191.0 L741.6 191.4 L739.5 191.9 L737.3 192.3 L735.1 192.7 L733.0 193.2 L730.8 193.6 L728.6 194.0 L726.4 194.5 L724.3 194.9 L722.1 195.4 L719.9 195.9 L717.7 196.3 L715.5 196.8 L713.4 197.3 L711.2 197.8 L709.0 198.3 L706.8 198.9 L704.6 199.4 L702.5 200.0 L700.3 200.5 L698.1 201.1 L696.0 201.7 L693.8 202.3 L691.7 203.0 L689.5 203.6 L687.4 204.3 L685.3 205.0 L683.1 205.7 L681.0 206.4 L678.9 207.1 L676.8 207.9 L674.7 208.7 L672.6 209.5 L670.5 210.4 L668.5 211.2 L666.4 212.1 L664.3 213.0 L662.3 214.0 L660.3 215.0 L658.3 216.0 L656.3 217.0 L654.3 218.1 L652.3 219.2 L650.4 220.3 L648.4 221.5 L646.5 222.7 L644.6 223.9 L642.7 225.2 L640.9 226.5 L639.0 227.9 L637.2 229.3 L635.4 230.7 L633.6 232.2 L631.9 233.7 L630.2 235.3 L628.5 236.9 L626.8 238.5 L625.1 240.2 L623.5 241.9 L621.9 243.7 L620.3 245.5 L618.8 247.4 L617.3 249.2 L629.0 258.6 L630.4 256.9 L631.7 255.3 L633.1 253.8 L634.5 252.2 L636.0 250.7 L637.4 249.3 L638.9 247.9 L640.4 246.5 L641.9 245.1 L643.5 243.8 L645.0 242.5 L646.6 241.3 L648.2 240.1 L649.8 238.9 L651.5 237.7 L653.1 236.6 L654.8 235.4 L656.5 234.3 L658.2 233.2 L659.9 232.2 L661.7 231.2 L663.4 230.1 L665.2 229.2 L667.0 228.2 L668.8 227.3 L670.6 226.4 L672.5 225.5 L674.4 224.6 L676.2 223.8 L678.1 222.9 L680.1 222.1 L682.0 221.4 L683.9 220.6 L685.9 219.8 L687.8 219.1 L689.8 218.4 L691.8 217.7 L693.8 217.0 L695.8 216.4 L697.9 215.7 L699.9 215.1 L702.0 214.4 L704.0 213.8 L706.1 213.2 L708.2 212.7 L710.2 212.1 L712.3 211.5 L714.4 211.0 L716.5 210.4 L718.6 209.9 L720.8 209.4 L722.9 208.8 L725.0 208.3 L727.1 207.8 L729.3 207.3 L731.4 206.8 L733.5 206.3 L735.7 205.8 L737.8 205.3 L740.0 204.9 L742.1 204.4 L744.2 203.9 L746.4 203.4 L748.5 202.9 L750.7 202.5 L752.8 202.0 L754.9 201.5 L757.1 201.0 L759.2 200.5 L761.3 200.0 L763.4 199.5 L765.5 199.0 L767.7 198.5 L769.8 198.0 L771.9 197.4 L774.0 196.9 L776.0 196.4 L778.1 195.8 L780.2 195.2Z" fill="#dc16e2"/>
<path d="M255.7 205.9 L260.3 207.9 L265.0 209.9 L269.6 211.9 L274.3 214.0 L278.9 216.0 L283.6 218.1 L288.2 220.2 L292.8 222.3 L297.4 224.4 L302.0 226.5 L306.6 228.7 L311.2 230.9 L315.8 233.1 L320.4 235.3 L325.0 237.5 L329.5 239.8 L334.1 242.1 L338.6 244.3 L343.2 246.7 L347.7 249.0 L352.2 251.3 L356.7 253.7 L361.2 256.1 L365.7 258.5 L370.2 260.9 L374.7 263.4 L379.1 265.8 L383.6 268.3 L388.0 270.9 L392.4 273.4 L396.8 275.9 L401.2 278.5 L405.5 281.1 L409.9 283.7 L414.2 286.4 L418.6 289.0 L422.9 291.7 L427.2 294.4 L431.5 297.2 L435.7 299.9 L440.0 302.7 L444.2 305.5 L448.4 308.4 L452.6 311.2 L456.8 314.1 L460.9 317.0 L465.0 320.0 L469.2 322.9 L473.3 325.9 L477.3 328.9 L481.4 331.9 L485.4 335.0 L489.4 338.1 L493.4 341.2 L497.4 344.3 L501.3 347.5 L505.3 350.6 L509.2 353.8 L513.1 357.1 L516.9 360.3 L520.8 363.6 L524.6 366.9 L528.4 370.3 L532.1 373.6 L535.9 377.0 L539.6 380.4 L543.3 383.9 L547.0 387.3 L550.6 390.8 L554.2 394.4 L557.8 397.9 L561.4 401.5 L564.9 405.1 L568.4 408.8 L571.9 412.4 L575.3 416.1 L578.8 419.8 L582.2 423.6 L585.6 427.4 L600.3 414.2 L596.8 410.4 L593.3 406.5 L589.7 402.7 L586.2 398.9 L582.5 395.1 L578.9 391.4 L575.2 387.7 L571.6 384.0 L567.8 380.4 L564.1 376.8 L560.3 373.2 L556.5 369.7 L552.7 366.2 L548.9 362.7 L545.0 359.2 L541.1 355.8 L537.2 352.4 L533.2 349.0 L529.3 345.7 L525.3 342.4 L521.3 339.1 L517.3 335.8 L513.2 332.6 L509.1 329.4 L505.0 326.2 L500.9 323.1 L496.8 319.9 L492.6 316.8 L488.5 313.8 L484.3 310.7 L480.1 307.7 L475.8 304.7 L471.6 301.8 L467.3 298.8 L463.0 295.9 L458.7 293.0 L454.4 290.1 L450.1 287.3 L445.8 284.5 L441.4 281.7 L437.0 278.9 L432.6 276.2 L428.2 273.4 L423.8 270.7 L419.4 268.0 L414.9 265.4 L410.5 262.7 L406.0 260.1 L401.5 257.5 L397.0 255.0 L392.5 252.4 L388.0 249.9 L383.5 247.4 L378.9 244.9 L374.4 242.4 L369.8 240.0 L365.2 237.6 L360.7 235.2 L356.1 232.8 L351.5 230.4 L346.8 228.1 L342.2 225.8 L337.6 223.5 L333.0 221.2 L328.3 219.0 L323.7 216.7 L319.0 214.5 L314.3 212.3 L309.7 210.1 L305.0 208.0 L300.3 205.8 L295.6 203.7 L290.9 201.6 L286.2 199.5 L281.5 197.4 L276.8 195.4 L272.1 193.4 L267.4 191.3 L262.7 189.3Z" fill="#0a3adc"/>
<path d="M615.7 249.1 L614.5 250.9 L613.3 252.7 L612.1 254.5 L610.8 256.3 L609.6 258.1 L608.3 259.9 L607.1 261.8 L605.9 263.6 L604.6 265.5 L603.4 267.4 L602.2 269.3 L600.9 271.2 L599.7 273.1 L598.4 275.1 L597.2 277.0 L595.9 279.0 L594.7 280.9 L593.5 282.9 L592.2 284.9 L591.0 286.9 L589.9 289.0 L588.7 291.0 L587.5 293.1 L586.4 295.2 L585.3 297.4 L584.3 299.5 L583.2 301.7 L582.3 303.9 L581.3 306.1 L580.4 308.3 L579.5 310.6 L578.7 312.8 L577.8 315.1 L577.1 317.4 L576.3 319.7 L575.6 322.0 L574.9 324.3 L574.3 326.6 L573.7 328.9 L573.2 331.3 L572.7 333.6 L572.2 336.0 L571.7 338.4 L571.4 340.8 L571.0 343.2 L570.7 345.6 L570.4 348.0 L570.2 350.4 L570.0 352.8 L569.8 355.2 L569.7 357.7 L569.7 360.1 L569.6 362.5 L569.7 364.9 L569.7 367.4 L569.8 369.8 L569.9 372.2 L570.1 374.6 L570.3 377.0 L570.5 379.4 L570.8 381.8 L571.1 384.2 L571.4 386.6 L571.8 389.0 L572.2 391.4 L572.6 393.8 L573.1 396.1 L573.6 398.5 L574.1 400.8 L574.7 403.1 L575.3 405.5 L575.9 407.8 L576.6 410.1 L577.3 412.4 L578.0 414.6 L578.8 416.9 L579.6 419.1 L580.4 421.4 L581.2 423.5 L599.9 416.4 L599.1 414.4 L598.4 412.4 L597.7 410.4 L597.0 408.4 L596.4 406.4 L595.8 404.4 L595.2 402.4 L594.6 400.3 L594.1 398.3 L593.6 396.2 L593.1 394.1 L592.7 392.1 L592.2 390.0 L591.8 387.9 L591.5 385.8 L591.2 383.7 L590.9 381.6 L590.6 379.5 L590.4 377.4 L590.1 375.3 L590.0 373.1 L589.8 371.0 L589.7 368.9 L589.6 366.8 L589.6 364.7 L589.6 362.6 L589.6 360.5 L589.7 358.4 L589.8 356.3 L589.9 354.2 L590.1 352.1 L590.3 350.0 L590.5 348.0 L590.7 345.9 L591.1 343.9 L591.4 341.8 L591.8 339.8 L592.2 337.7 L592.6 335.7 L593.1 333.7 L593.6 331.6 L594.1 329.6 L594.7 327.6 L595.3 325.6 L596.0 323.6 L596.6 321.7 L597.3 319.7 L598.1 317.7 L598.8 315.8 L599.6 313.9 L600.5 311.9 L601.3 310.0 L602.2 308.1 L603.1 306.2 L604.1 304.3 L605.1 302.4 L606.1 300.5 L607.1 298.6 L608.1 296.8 L609.2 294.9 L610.3 293.0 L611.4 291.1 L612.5 289.2 L613.7 287.3 L614.8 285.4 L616.0 283.5 L617.2 281.6 L618.4 279.7 L619.6 277.7 L620.8 275.8 L622.0 273.9 L623.2 271.9 L624.3 270.0 L625.5 268.0 L626.6 265.9 L627.7 263.9 L628.7 261.9 L629.8 259.8 L630.8 257.8Z" fill="#0a3adc"/>
<path d="M600.6 406.8 L732.0 540.7 L713.9 558.4 L693.6 538.8 L647.0 492.4 L594.5 438.8 L582.5 424.0Z" fill="#06a8c8"/>
<g>
<text x="197.3" y="69.5">1</text>
<text x="141.1" y="98.8">1</text>
<text x="25.4" y="284.9">1</text>
<text x="73.2" y="316.1">1</text>
<text x="356.8" y="335.5">1</text>
<text x="498.1" y="482.5">1</text>
<text x="616.3" y="106.5">1</text>
<text x="552.3" y="130.5">1</text>
<text x="804.3" y="174.3">1</text>
<text x="840.3" y="231.0">1</text>
<text x="208.0" y="175.9">2</text>
<text x="167.9" y="232.4">2</text>
<text x="604.7" y="223.5">2</text>
<text x="690.2" y="234.6">2</text>
<text x="332.3" y="257.0">3</text>
<text x="497.0" y="364.3">3</text>
<text x="582.0" y="319.3">3</text>
<text x="604.4" y="455.0">4</text>
<text x="666.3" y="528.8">4</text>
</g>
</g>
</svg>
</body></html>
